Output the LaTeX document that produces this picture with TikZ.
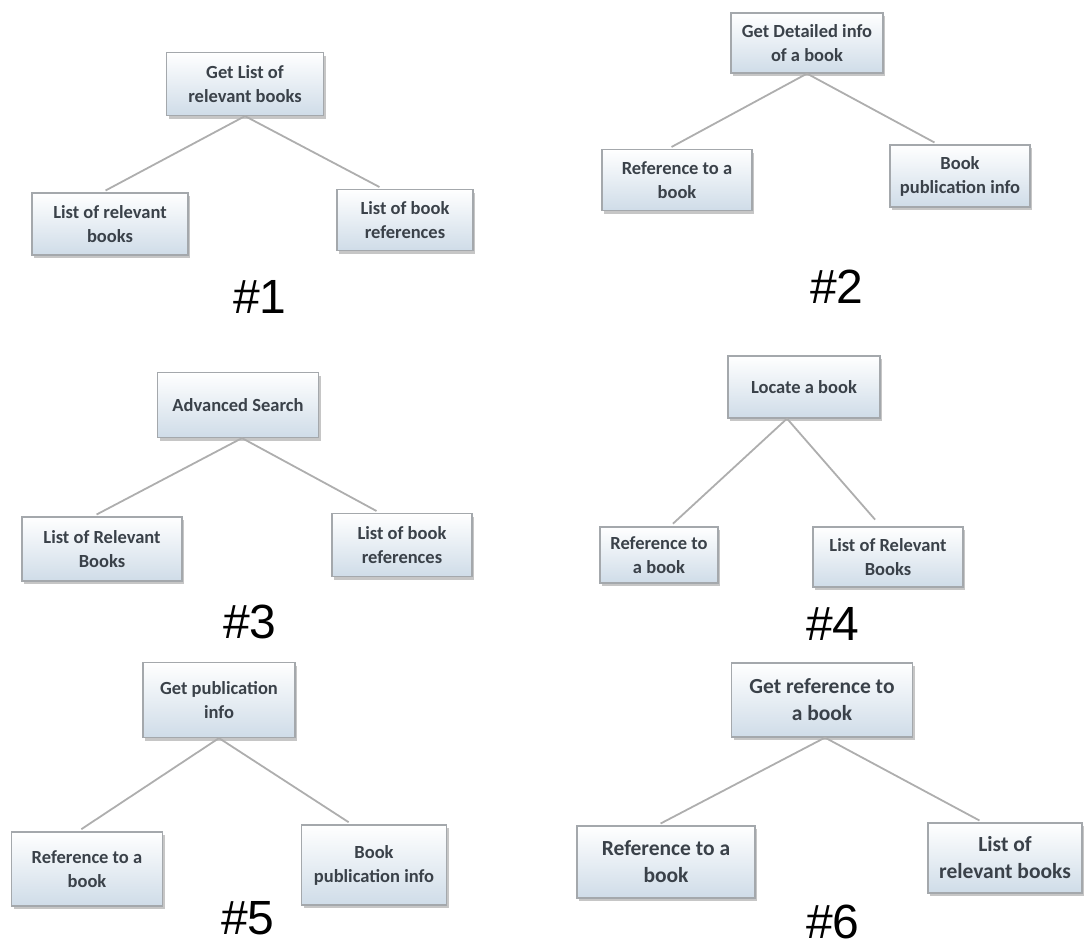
\documentclass[tikz,border=0pt]{standalone}
\usepackage{fontspec}
\usepackage{tikz}
\usetikzlibrary{shadows}
\newfontfamily\boxfont{Carlito}
\newfontfamily\labelfont{Liberation Sans}
\definecolor{boxblue}{HTML}{CFDCE8}
\definecolor{boxedge}{HTML}{A4A8AC}
\definecolor{boxtext}{HTML}{3A4149}
\definecolor{linkgray}{HTML}{AEAEAE}

\begin{document}
\begin{tikzpicture}[x=1pt, y=-1pt,
    topic/.style={draw=boxedge, line width=1.2pt, top color=white, bottom color=boxblue,
        drop shadow={shadow xshift=2pt, shadow yshift=-3pt, opacity=0.45},
        align=center, inner sep=2pt, text=boxtext,
        font=\boxfont\bfseries\fontsize{18.5}{24}\selectfont},
    bigtopic/.style={topic, font=\boxfont\bfseries\fontsize{21.5}{27}\selectfont},
    link/.style={draw=linkgray, line width=1.8pt, shorten >=4pt},
    number/.style={font=\labelfont\fontsize{48}{56}\selectfont}]

    \useasboundingbox (0,0) rectangle (1088,948);

    \node[topic, minimum width=157pt, minimum height=63pt] (t1) at (245,84) {Get List of\\relevant books};
    \node[topic, minimum width=156pt, minimum height=62pt] (l1) at (110,224) {List of relevant\\books};
    \node[topic, minimum width=136pt, minimum height=61pt] (r1) at (405,220) {List of book\\references};
    \draw[link] (t1.south) -- ([xshift=-8pt]l1.north);
    \draw[link] (t1.south) -- ([xshift=-22pt]r1.north);
    \node[number] (n1) at (260,297) {\#1};

    \node[topic, minimum width=152pt, minimum height=60pt] (t2) at (807,43) {Get Detailed info\\of a book};
    \node[topic, minimum width=150pt, minimum height=61pt] (l2) at (677,180) {Reference to a\\book};
    \node[topic, minimum width=140pt, minimum height=62pt] (r2) at (960,176) {Book\\publication info};
    \draw[link] (t2.south) -- ([xshift=-9pt]l2.north);
    \draw[link] (t2.south) -- ([xshift=-22pt]r2.north);
    \node[number] (n2) at (837,287) {\#2};

    \node[topic, minimum width=161pt, minimum height=65pt] (t3) at (238,405) {Advanced Search};
    \node[topic, minimum width=160pt, minimum height=64pt] (l3) at (102,549) {List of Relevant\\Books};
    \node[topic, minimum width=140pt, minimum height=63pt] (r3) at (402,545) {List of book\\references};
    \draw[link] ([xshift=4pt]t3.south) -- ([xshift=-9pt]l3.north);
    \draw[link] ([xshift=4pt]t3.south) -- ([xshift=-22pt]r3.north);
    \node[number] (n3) at (250,622) {\#3};

    \node[topic, minimum width=152pt, minimum height=62pt] (t4) at (804,387) {Locate a book};
    \node[topic, minimum width=118pt, minimum height=56pt] (l4) at (659,555) {Reference to\\a book};
    \node[topic, minimum width=150pt, minimum height=60pt] (r4) at (888,557) {List of Relevant\\Books};
    \draw[link] ([xshift=-17pt]t4.south) -- ([xshift=11pt]l4.north);
    \draw[link, shorten >=9pt] ([xshift=-17pt]t4.south) -- ([xshift=-7pt]r4.north);
    \node[number] (n4) at (833,624) {\#4};

    \node[topic, minimum width=152pt, minimum height=75pt] (t5) at (219,700) {Get publication\\info};
    \node[topic, minimum width=151pt, minimum height=74pt] (l5) at (87,869) {Reference to a\\book};
    \node[topic, minimum width=145pt, minimum height=80pt] (r5) at (374,865) {Book\\publication info};
    \draw[link] (t5.south) -- ([xshift=-9pt]l5.north);
    \draw[link] (t5.south) -- ([xshift=-22pt]r5.north);
    \node[number] (n5) at (248,918) {\#5};

    \node[bigtopic, minimum width=181pt, minimum height=74pt] (t6) at (822,700) {Get reference to\\a book};
    \node[bigtopic, minimum width=178pt, minimum height=72pt] (l6) at (666,862) {Reference to a\\book};
    \node[bigtopic, minimum width=154pt, minimum height=70pt] (r6) at (1005,858) {List of\\relevant books};
    \draw[link] ([xshift=3pt]t6.south) -- ([xshift=-9pt]l6.north);
    \draw[link] ([xshift=3pt]t6.south) -- ([xshift=-22pt]r6.north);
    \node[number] (n6) at (833,922) {\#6};

\end{tikzpicture}
\end{document}
